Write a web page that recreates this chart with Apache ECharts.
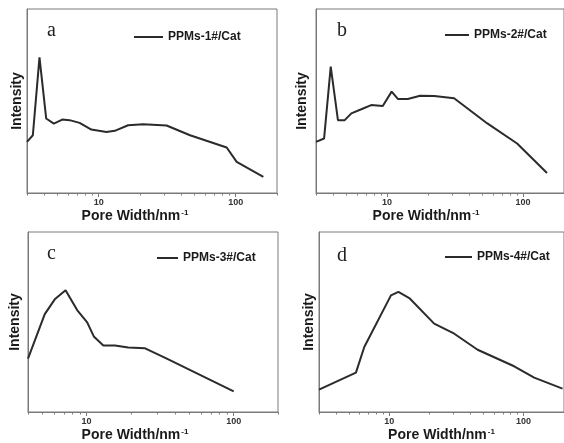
<!DOCTYPE html>
<html>
<head>
<meta charset="utf-8">
<script src="https://cdn.jsdelivr.net/npm/echarts@6/dist/echarts.min.js"></script>
<style>
  html, body { margin: 0; padding: 0; background: #fff; }
  #chart { width: 564px; height: 443px; }
</style>
</head>
<body>
<div id="chart"></div>
<script>
// 孔径分布数据（读图估算，纵轴为相对强度 0-100）
const aX = [3.0, 3.31, 3.70, 4.14, 4.71, 5.42, 6.13, 7.26, 8.84, 11.4, 13.1, 16.4, 21.1, 31.3, 46.4, 85.9, 101.6, 159];
const aY = [27.8, 31.4, 73.7, 40.5, 37.7, 39.9, 39.6, 38.1, 34.5, 33.2, 33.8, 36.8, 37.4, 36.7, 31.4, 24.7, 16.9, 8.7];

const bX = [3.0, 3.44, 3.85, 4.35, 4.88, 5.46, 6.46, 7.64, 9.29, 10.8, 12.0, 14.2, 17.5, 22.2, 31.1, 54.6, 90.4, 150];
const bY = [27.8, 29.6, 68.7, 39.6, 39.6, 43.3, 45.5, 47.8, 47.3, 55.1, 51.1, 51.1, 52.9, 52.7, 51.5, 37.8, 26.9, 10.9];

const cX = [4.0, 5.2, 6.08, 7.2, 8.63, 10.1, 11.2, 13.0, 15.6, 19.2, 25.0, 35.1, 100];
const cY = [29.7, 54.4, 62.6, 67.7, 56.6, 49.8, 42.0, 37.0, 37.0, 35.8, 35.4, 29.7, 11.5];

const dX = [3.0, 5.65, 6.52, 10.3, 11.7, 14.1, 21.6, 30.5, 45.5, 85.1, 120, 195];
const dY = [12.4, 21.9, 36.1, 64.8, 66.7, 63.3, 49.1, 43.5, 34.6, 25.4, 19.1, 13.0];

const seriesNames = ['PPMs-1#/Cat', 'PPMs-2#/Cat', 'PPMs-3#/Cat', 'PPMs-4#/Cat'];
const panelLetters = ['a', 'b', 'c', 'd'];
const majorTicks = [10, 100];
const minorTicks = [3, 4, 5, 6, 7, 8, 9, 20, 30, 40, 50, 60, 70, 80, 90, 200];

const chart = echarts.init(document.getElementById('chart'));

const frameColor = '#7a7a7a';
const lineColor = '#2b2b2b';
const sans = 'Liberation Sans, Arial, sans-serif';

// 每个子图的布局
const panels = [
  { x: aX, y: aY, grid: { left: 27, top: 9, width: 250, height: 184 }, min: 3, max: 200,
    legend: { left: 134, top: 31, w: 29 }, title: { left: 47, top: 21 }, namePad: 34, yGap: 3 },
  { x: bX, y: bY, grid: { left: 316, top: 9, width: 250, height: 184 }, min: 3, max: 200,
    legend: { left: 445, top: 29, w: 24 }, title: { left: 337, top: 21 }, namePad: 28, yGap: 7 },
  { x: cX, y: cY, grid: { left: 28, top: 232, width: 250, height: 183 }, min: 4, max: 200,
    legend: { left: 157, top: 252, w: 21 }, title: { left: 47, top: 244 }, namePad: 36, yGap: 6 },
  { x: dX, y: dY, grid: { left: 319, top: 232, width: 247, height: 180 }, min: 3, max: 200,
    legend: { left: 445, top: 251, w: 27 }, title: { left: 337, top: 246 }, namePad: 0, yGap: 3 }
];

const grid = [], xAxis = [], yAxis = [], series = [], legend = [], title = [];

panels.forEach((p, i) => {
  grid.push(Object.assign({
    show: true, borderColor: frameColor, borderWidth: 1, backgroundColor: 'transparent'
  }, p.grid));

  // 主坐标轴：刻度标签 10 / 100
  xAxis.push({
    type: 'log', logBase: 10, gridIndex: i, min: p.min, max: p.max, position: 'bottom',
    name: 'Pore Width/nm{s|-1}', nameLocation: 'middle', nameGap: 16,
    nameTextStyle: {
      fontFamily: sans, fontWeight: 'bold', fontSize: 14, color: '#1a1a1a',
      padding: [0, p.namePad, 0, 0],
      rich: { s: { fontFamily: sans, fontWeight: 'bold', fontSize: 8, color: '#1a1a1a', verticalAlign: 'top', padding: [0, 0, 6, 1] } }
    },
    axisLine: { show: true, lineStyle: { color: frameColor, width: 1 } },
    axisTick: { show: true, customValues: majorTicks, length: 4, lineStyle: { color: frameColor } },
    axisLabel: { customValues: majorTicks, fontFamily: sans, fontWeight: 'bold', fontSize: 9, color: '#333', margin: 5 },
    splitLine: { show: false }, minorTick: { show: false }
  });
  // 次刻度（同在底边）
  xAxis.push({
    type: 'log', logBase: 10, gridIndex: i, min: p.min, max: p.max, position: 'bottom', offset: 0,
    axisLine: { show: false },
    axisTick: { show: true, customValues: minorTicks, length: 2.5, lineStyle: { color: frameColor } },
    axisLabel: { show: false }, splitLine: { show: false }
  });

  yAxis.push({
    type: 'value', gridIndex: i, min: 0, max: 100,
    name: 'Intensity', nameLocation: 'middle', nameGap: p.yGap,
    nameTextStyle: { fontFamily: sans, fontWeight: 'bold', fontSize: 14, color: '#1a1a1a' },
    axisLine: { show: true, lineStyle: { color: frameColor, width: 1 } },
    axisTick: { show: false }, axisLabel: { show: false }, splitLine: { show: false }
  });

  series.push({
    name: seriesNames[i], type: 'line', xAxisIndex: i * 2, yAxisIndex: i,
    data: p.x.map((v, k) => [v, p.y[k]]),
    symbol: 'none', lineStyle: { color: lineColor, width: 2 }, itemStyle: { color: lineColor },
    silent: true, animation: false
  });

  legend.push({
    data: [seriesNames[i]], left: p.legend.left, top: p.legend.top,
    icon: 'rect', itemWidth: p.legend.w, itemHeight: 2, padding: 0,
    itemStyle: { color: lineColor },
    textStyle: { fontFamily: sans, fontWeight: 'bold', fontSize: 12, color: '#1a1a1a' }
  });

  title.push({
    text: panelLetters[i], left: p.title.left, top: p.title.top, padding: 0,
    textStyle: { fontFamily: 'Liberation Serif, Times New Roman, serif', fontWeight: 'normal', fontSize: 20, color: '#222' }
  });
});

chart.setOption({
  backgroundColor: '#fff',
  animation: false,
  title: title,
  legend: legend,
  grid: grid,
  xAxis: xAxis,
  yAxis: yAxis,
  series: series
});

window.addEventListener('resize', () => chart.resize());
</script>
</body>
</html>
